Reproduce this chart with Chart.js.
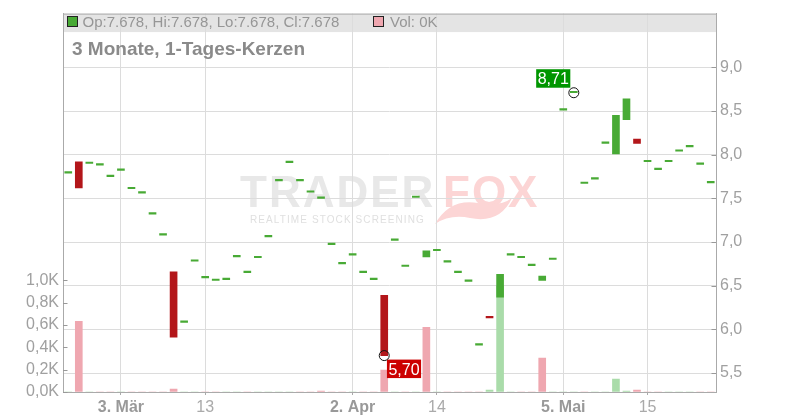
<!DOCTYPE html>
<html>
<head>
<meta charset="utf-8">
<script src="https://cdn.jsdelivr.net/npm/chart.js@4/dist/chart.umd.min.js"></script>
<style>
  html, body { margin: 0; padding: 0; background: #fff; }
  #wrap { width: 800px; height: 420px; }
</style>
</head>
<body>
<div id="wrap"><canvas id="chart" width="800" height="420"></canvas></div>
<script>
// daily candles, oldest first (open == close draws as a dash)
const openPrices = [
  7.79, 7.92, 7.90, 7.88, 7.75, 7.82, 7.61, 7.56, 7.32, 7.08,
  6.66, 6.08, 6.78, 6.59, 6.56, 6.57, 6.83, 6.65, 6.82, 7.06,
  7.70, 7.91, 7.70, 7.57, 7.50, 6.97, 6.75, 6.85, 6.65, 6.57,
  6.39, 7.02, 6.72, 7.51, 6.83, 6.90, 6.77, 6.65, 6.55, 5.82,
  6.15, 6.37, 6.85, 6.82, 6.73, 6.56, 6.80, 8.51, 8.71, 7.67,
  7.72, 8.13, 8.01, 8.40, 8.18, 7.92, 7.83, 7.92, 8.04, 8.09,
  7.89, 7.678
];
const closePrices = [
  7.79, 7.62, 7.90, 7.88, 7.75, 7.82, 7.61, 7.56, 7.32, 7.08,
  5.91, 6.08, 6.78, 6.59, 6.56, 6.57, 6.83, 6.65, 6.82, 7.06,
  7.70, 7.91, 7.70, 7.57, 7.50, 6.97, 6.75, 6.85, 6.65, 6.57,
  5.70, 7.02, 6.72, 7.51, 6.90, 6.90, 6.77, 6.65, 6.55, 5.82,
  6.13, 6.63, 6.85, 6.82, 6.73, 6.61, 6.80, 8.51, 8.71, 7.67,
  7.72, 8.13, 8.45, 8.64, 8.13, 7.92, 7.83, 7.92, 8.04, 8.09,
  7.89, 7.678
];
// volume in thousands
const volumes = [
  0, 0.634, 0, 0, 0, 0, 0, 0, 0, 0,
  0.027, 0, 0, 0, 0, 0, 0, 0, 0, 0,
  0, 0, 0, 0, 0.009, 0, 0, 0, 0, 0,
  0.196, 0, 0, 0, 0.58, 0, 0, 0, 0, 0,
  0.018, 0.95, 0, 0, 0, 0.304, 0, 0, 0, 0,
  0, 0, 0.116, 0.009, 0.018, 0, 0, 0, 0, 0,
  0, 0
];
const priceTicks = [5.5, 6.0, 6.5, 7.0, 7.5, 8.0, 8.5, 9.0];
const volumeTicks = [0, 0.2, 0.4, 0.6, 0.8, 1.0];
const dateTickPos = [5, 13, 27, 35, 47, 55];
const dateTickLabels = ['3. Mär', '13', '2. Apr', '14', '5. Mai', '15'];
const chartTitle = '3 Monate, 1-Tages-Kerzen';

const GREEN = '#48aa35';
const RED = '#b3161a';
const PINK = '#efa7b0';
const LIGHTGREEN = '#aadcaa';
const FONT = '"Liberation Sans", Arial, sans-serif';

Chart.defaults.font.family = FONT;

const highs = openPrices.map((o, i) => Math.max(o, closePrices[i]));
const lows = openPrices.map((o, i) => Math.min(o, closePrices[i]));
const hiIdx = highs.indexOf(Math.max(...highs));
const loIdx = lows.indexOf(Math.min(...lows));
const last = openPrices.length - 1;

const deComma = (v, d) => v.toFixed(d).replace('.', ',');
// month ticks ("3. Mär") are drawn darker and bold
const isMonthTick = c => !!(c.tick && /\./.test(dateTickLabels[dateTickPos.indexOf(c.tick.value)] || ''));

function markerLabel(ctx, x, y, text, color, above) {
  ctx.font = '16px ' + FONT;
  const w = ctx.measureText(text).width + 3;
  const h = 18.5;
  const bx = above ? x - 3.5 - w : x + 2.7;
  const by = above ? y - 5 - h : y + 4;
  ctx.fillStyle = color;
  ctx.fillRect(bx, by, w, h);
  ctx.fillStyle = '#fff';
  ctx.textAlign = 'center';
  ctx.textBaseline = 'alphabetic';
  ctx.fillText(text, bx + w / 2, by + 15);
  ctx.beginPath();
  ctx.arc(x, y, 5, 0, Math.PI * 2);
  ctx.strokeStyle = '#111';
  ctx.lineWidth = 1;
  ctx.stroke();
}

const decor = {
  id: 'decor',
  beforeDraw(chart) {
    const { ctx, chartArea: a } = chart;
    ctx.save();
    // info band
    ctx.fillStyle = '#e4e4e4';
    ctx.fillRect(a.left, a.top, a.right - a.left, 18.5);
    // watermark
    ctx.textBaseline = 'alphabetic';
    ctx.textAlign = 'left';
    ctx.letterSpacing = '2px';
    ctx.font = 'bold 44px ' + FONT;
    ctx.fillStyle = '#e8e8e8';
    ctx.fillText('TRADER', 240, 207);
    ctx.fillStyle = '#fcd5d5';
    ctx.fillText('FOX', 443, 207);
    ctx.beginPath();
    ctx.moveTo(435, 224);
    ctx.quadraticCurveTo(450, 198, 478, 203);
    ctx.quadraticCurveTo(500, 207, 512, 198);
    ctx.quadraticCurveTo(500, 224, 470, 218);
    ctx.quadraticCurveTo(450, 214, 435, 224);
    ctx.fill();
    ctx.letterSpacing = '1.1px';
    ctx.font = '10px ' + FONT;
    ctx.fillStyle = '#e0e0e0';
    ctx.fillText('REALTIME STOCK SCREENING', 250, 223);
    ctx.letterSpacing = '0px';
    ctx.restore();
  },
  afterDatasetsDraw(chart) {
    const { ctx } = chart;
    const xs = chart.scales.x, ys = chart.scales.y;
    ctx.save();
    markerLabel(ctx, xs.getPixelForValue(hiIdx), ys.getPixelForValue(highs[hiIdx]),
      deComma(highs[hiIdx], 2), '#009600', true);
    markerLabel(ctx, xs.getPixelForValue(loIdx), ys.getPixelForValue(lows[loIdx]),
      deComma(lows[loIdx], 2), '#cc0000', false);
    ctx.restore();
  },
  afterDraw(chart) {
    const { ctx, chartArea: a } = chart;
    ctx.save();
    // top border
    ctx.strokeStyle = '#aaa';
    ctx.lineWidth = 1;
    ctx.beginPath();
    ctx.moveTo(a.left, a.top + 0.5);
    ctx.lineTo(a.right, a.top + 0.5);
    ctx.stroke();
    // inner tick marks
    ctx.strokeStyle = '#999';
    ctx.beginPath();
    priceTicks.forEach(v => {
      const y = Math.round(chart.scales.y.getPixelForValue(v)) + 0.5;
      ctx.moveTo(a.right - 4.5, y);
      ctx.lineTo(a.right, y);
    });
    volumeTicks.forEach(v => {
      const y = Math.round(chart.scales.y1.getPixelForValue(v)) + 0.5;
      ctx.moveTo(a.left, y);
      ctx.lineTo(a.left + 4.5, y);
    });
    ctx.stroke();
    // info line
    ctx.textBaseline = 'alphabetic';
    ctx.textAlign = 'left';
    ctx.font = '15px ' + FONT;
    ctx.fillStyle = GREEN;
    ctx.fillRect(67.5, 16.5, 10, 10);
    ctx.strokeStyle = '#222';
    ctx.strokeRect(67.5, 16.5, 10, 10);
    ctx.fillStyle = PINK;
    ctx.fillRect(373.5, 16.5, 10, 10);
    ctx.strokeRect(373.5, 16.5, 10, 10);
    const o = openPrices[last], c = closePrices[last];
    ctx.fillStyle = '#969696';
    ctx.fillText(`Op:${o.toFixed(3)}, Hi:${highs[last].toFixed(3)}, Lo:${lows[last].toFixed(3)}, Cl:${c.toFixed(3)}`, 82.5, 27);
    ctx.fillText(`Vol: ${volumes[last]}K`, 390, 27);
    // title
    ctx.font = 'bold 19px ' + FONT;
    ctx.fillStyle = '#8a8a8a';
    ctx.fillText(chartTitle, 72, 54.5);
    ctx.restore();
  }
};

new Chart(document.getElementById('chart'), {
  type: 'bar',
  data: {
    datasets: [
      {
        label: 'Kurs',
        yAxisID: 'y',
        data: openPrices.map((o, i) => ({ x: i, y: [o, closePrices[i]] })),
        backgroundColor: openPrices.map((o, i) => closePrices[i] < o ? RED : GREEN),
        barThickness: 7,
        minBarLength: 1.5,
        grouped: false,
      },
      {
        label: 'Volumen',
        yAxisID: 'y1',
        data: volumes.map((v, i) => ({ x: i, y: v })),
        backgroundColor: volumes.map((v, i) => i > 0 && closePrices[i] < closePrices[i - 1] ? PINK : LIGHTGREEN),
        barThickness: 7,
        grouped: false,
      },
    ],
  },
  options: {
    responsive: false,
    animation: false,
    layout: { padding: { top: 12, left: 0, right: 0, bottom: 0 } },
    plugins: { legend: { display: false }, tooltip: { enabled: false } },
    scales: {
      x: {
        type: 'linear',
        min: -0.5,
        max: 61.5,
        offset: false,
        afterBuildTicks: s => { s.ticks = dateTickPos.map(v => ({ value: v })); },
        afterFit: s => { s.height = 28; },
        border: { color: '#aaa' },
        grid: { offset: false, color: '#dcdcdc', tickColor: '#aaa', tickLength: 3 },
        ticks: {
          autoSkip: false,
          maxRotation: 0,
          padding: 3,
          callback: v => dateTickLabels[dateTickPos.indexOf(v)],
          color: c => isMonthTick(c) ? '#999' : '#aaa',
          font: c => ({ size: 16, weight: isMonthTick(c) ? 'bold' : 'normal' }),
        },
      },
      y: {
        position: 'right',
        min: 5.283,
        max: 9.616,
        afterBuildTicks: s => { s.ticks = priceTicks.map(v => ({ value: v })); },
        afterFit: s => { s.width = 84; },
        border: { color: '#aaa' },
        grid: { color: '#dcdcdc', drawTicks: false },
        ticks: {
          padding: 4,
          color: '#a0a0a0',
          font: { size: 16 },
          callback: v => deComma(v, 1),
        },
      },
      y1: {
        position: 'left',
        min: 0,
        max: 3.393,
        afterBuildTicks: s => { s.ticks = volumeTicks.map(v => ({ value: v })); },
        afterFit: s => { s.width = 63; },
        border: { color: '#aaa' },
        grid: { drawOnChartArea: false, drawTicks: false },
        ticks: {
          padding: 4,
          color: '#a0a0a0',
          font: { size: 16 },
          callback: v => deComma(v, 1) + 'K',
        },
      },
    },
  },
  plugins: [decor],
});
</script>
</body>
</html>
